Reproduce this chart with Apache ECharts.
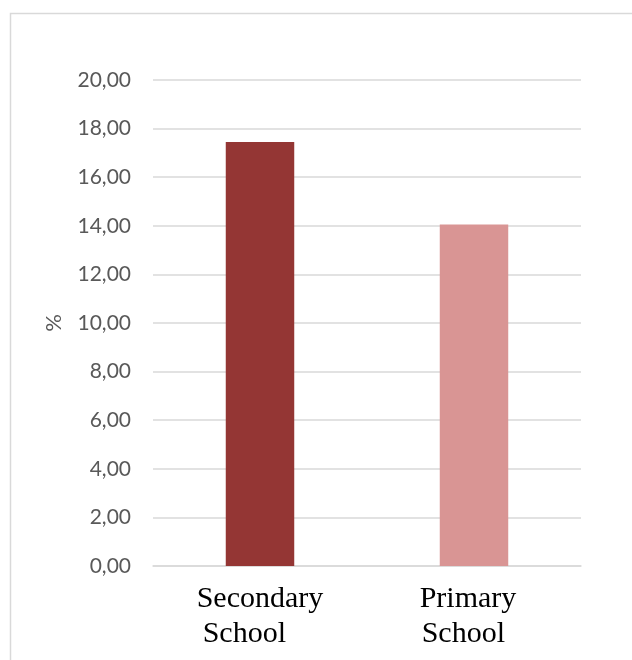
<!DOCTYPE html>
<html>
<head>
<meta charset="utf-8">
<script src="https://cdn.jsdelivr.net/npm/echarts@6/dist/echarts.min.js"></script>
<style>
  html, body { margin: 0; padding: 0; background: #fff; }
  #chart { width: 632px; height: 660px; }
</style>
</head>
<body>
<div id="chart"></div>
<script>
// School level categories and their shares (%)
const categories = ['Secondary School', 'Primary School'];
const values = [17.45, 14.05];
const barColors = ['#943634', '#D99594'];
const yTicks = { min: 0, max: 20, interval: 2 };

const chart = echarts.init(document.getElementById('chart'));

const serif = { fontFamily: 'Liberation Serif', fontSize: 30, color: '#000', lineHeight: 35, align: 'left' };

chart.setOption({
  animation: false,
  backgroundColor: '#fff',
  graphic: [{
    type: 'rect',
    left: 8, top: 11,
    shape: { width: 700, height: 700 },
    style: { fill: 'none', stroke: '#d9d9d9', lineWidth: 1.5 },
    silent: true
  }],
  grid: { left: 153, right: 51, top: 80, bottom: 94 },
  xAxis: {
    type: 'category',
    data: categories,
    axisLine: { lineStyle: { color: '#d9d9d9', width: 1.5 } },
    axisTick: { show: false },
    axisLabel: {
      interval: 0,
      margin: 16,
      formatter: function (v) {
        const parts = v.split(' ');
        if (parts[0] === 'Secondary') {
          return '{s1|' + parts[0] + '}\n{s2|' + parts[1] + '}';
        }
        return '{p1|' + parts[0] + '}\n{p2|' + parts[1] + '}';
      },
      rich: {
        s1: Object.assign({}, serif),
        s2: Object.assign({}, serif, { padding: [0, 0, 0, 6] }),
        p1: Object.assign({}, serif, { padding: [0, 12, 0, 0] }),
        p2: Object.assign({}, serif, { padding: [0, 0, 0, 2] })
      }
    }
  },
  yAxis: {
    type: 'value',
    min: yTicks.min,
    max: yTicks.max,
    interval: yTicks.interval,
    name: '%',
    nameLocation: 'middle',
    nameRotate: 90,
    nameGap: 88,
    nameTextStyle: { fontFamily: 'Lato', fontSize: 22, color: '#595959' },
    axisLine: { show: false },
    axisTick: { show: false },
    splitLine: { lineStyle: { color: '#d9d9d9', width: 1.5 } },
    axisLabel: {
      margin: 22,
      fontFamily: 'Lato',
      fontSize: 21,
      color: '#595959',
      formatter: function (v) { return v.toFixed(2).replace('.', ','); }
    }
  },
  series: [{
    type: 'bar',
    barWidth: '32%',
    data: values.map(function (v, i) {
      return { value: v, itemStyle: { color: barColors[i] } };
    })
  }]
});
</script>
</body>
</html>
